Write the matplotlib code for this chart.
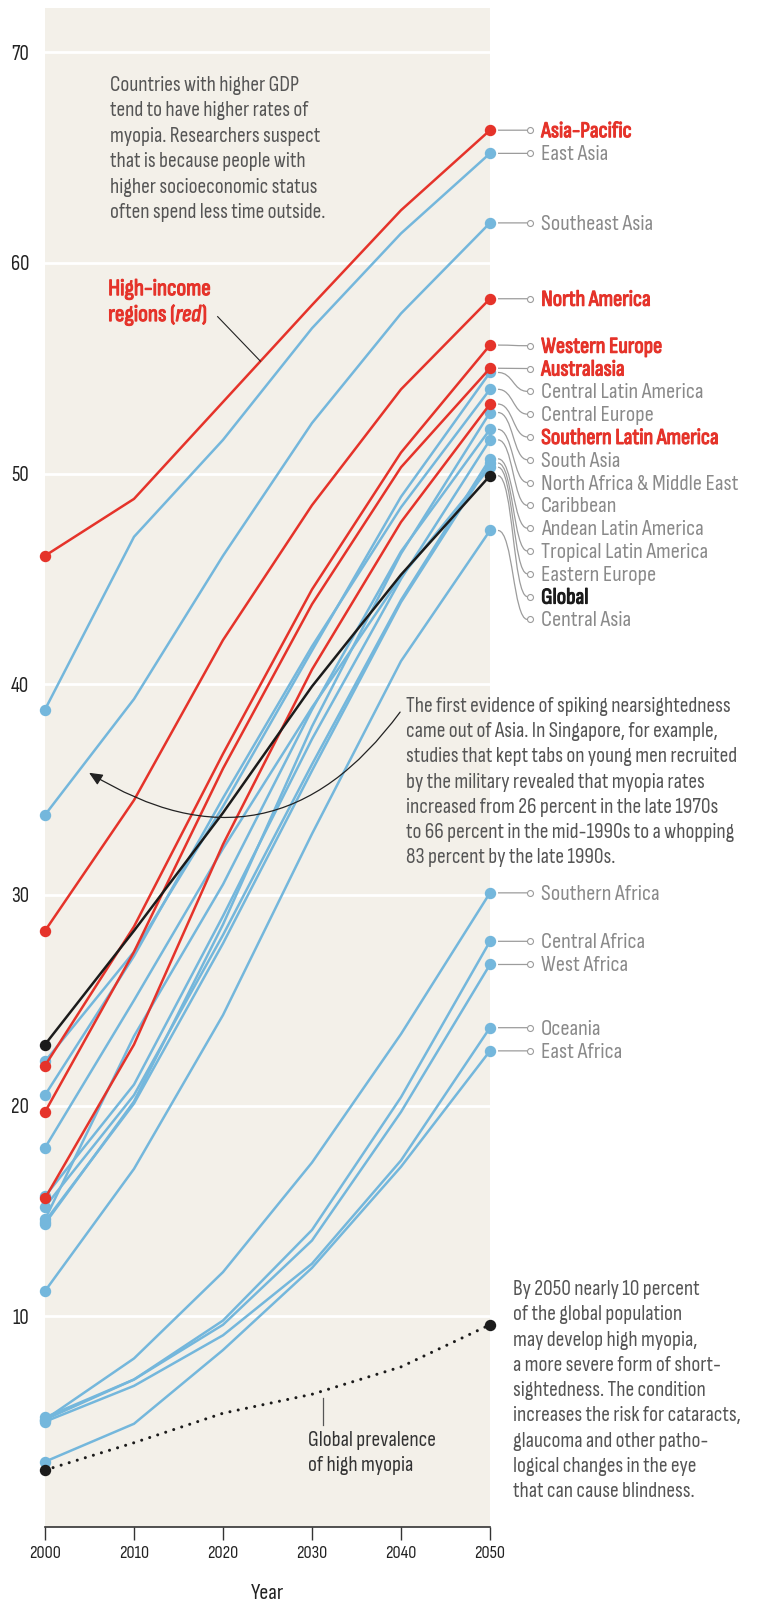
import matplotlib
matplotlib.use("Agg")
import matplotlib.pyplot as plt
import matplotlib.patheffects as pe
from matplotlib.path import Path
from matplotlib.patches import PathPatch, FancyArrowPatch
from matplotlib.transforms import offset_copy

# ---------------------------------------------------------------
# Myopia prevalence (%) by region, 2000-2050
# ---------------------------------------------------------------
years = [2000, 2010, 2020, 2030, 2040, 2050]

asia_pacific = [46.1, 48.8, 53.4, 58.0, 62.5, 66.3]
east_asia = [38.8, 47.0, 51.6, 56.9, 61.4, 65.2]
southeast_asia = [33.8, 39.3, 46.1, 52.4, 57.6, 61.9]
north_america = [28.3, 34.5, 42.1, 48.5, 54.0, 58.3]
western_europe = [21.9, 28.5, 36.7, 44.5, 51.0, 56.1]
australasia = [19.7, 27.3, 36.0, 43.8, 50.3, 55.0]
central_latin_america = [22.1, 27.3, 34.2, 41.6, 48.9, 54.8]
central_europe = [20.5, 27.1, 34.6, 41.8, 48.4, 54.0]
southern_latin_america = [15.6, 22.9, 32.4, 40.7, 47.7, 53.3]
south_asia = [14.4, 20.2, 28.6, 38.0, 46.2, 52.9]
north_africa_middle_east = [14.6, 23.3, 30.5, 38.8, 46.3, 52.1]
caribbean = [15.7, 21.0, 29.0, 37.4, 45.0, 51.6]
andean_latin_america = [15.2, 20.5, 28.1, 36.2, 44.0, 50.7]
tropical_latin_america = [14.5, 20.1, 27.7, 35.9, 43.9, 50.5]
eastern_europe = [18.0, 25.0, 32.2, 38.9, 45.1, 50.3]
global_myopia = [22.9, 28.3, 33.9, 39.9, 45.2, 49.9]
central_asia = [11.2, 17.0, 24.3, 32.9, 41.1, 47.3]
southern_africa = [5.1, 8.0, 12.1, 17.3, 23.4, 30.1]
central_africa = [5.1, 7.0, 9.8, 14.1, 20.4, 27.8]
west_africa = [5.2, 7.0, 9.6, 13.6, 19.7, 26.7]
oceania = [5.0, 6.7, 9.1, 12.5, 17.4, 23.7]
east_africa = [3.1, 4.9, 8.4, 12.3, 17.1, 22.6]

global_high_myopia = [2.7, 4.0, 5.4, 6.3, 7.6, 9.6]

y_ticks = [10, 20, 30, 40, 50, 60, 70]

# (label, values, group) - group: "high" income, "global" or "other"
regions = [
    ("Asia-Pacific", asia_pacific, "high"),
    ("East Asia", east_asia, "other"),
    ("Southeast Asia", southeast_asia, "other"),
    ("North America", north_america, "high"),
    ("Western Europe", western_europe, "high"),
    ("Australasia", australasia, "high"),
    ("Central Latin America", central_latin_america, "other"),
    ("Central Europe", central_europe, "other"),
    ("Southern Latin America", southern_latin_america, "high"),
    ("South Asia", south_asia, "other"),
    ("North Africa & Middle East", north_africa_middle_east, "other"),
    ("Caribbean", caribbean, "other"),
    ("Andean Latin America", andean_latin_america, "other"),
    ("Tropical Latin America", tropical_latin_america, "other"),
    ("Eastern Europe", eastern_europe, "other"),
    ("Global", global_myopia, "global"),
    ("Central Asia", central_asia, "other"),
    ("Southern Africa", southern_africa, "other"),
    ("Central Africa", central_africa, "other"),
    ("West Africa", west_africa, "other"),
    ("Oceania", oceania, "other"),
    ("East Africa", east_africa, "other"),
]

# labels between these two are stacked instead of sitting at their end value
STACK_FIRST, STACK_LAST = "Western Europe", "Central Asia"
STACK_TOP, STACK_STEP = 56.07, 1.0825

RED = "#e5332a"
BLUE = "#74b7dc"
BLACK = "#1b1b1b"
PANEL = "#f3f0e9"
GREY_LABEL = "#8a8a8a"
NOTE = "#555555"
LEADER = "#9c9c9c"

plt.rcParams["font.family"] = ["Sofia Sans Condensed", "Sofia Sans Semi Condensed",
                               "Liberation Sans Narrow", "DejaVu Sans"]

W, H = 757, 1601
fig = plt.figure(figsize=(W / 100, H / 100), dpi=100)
r = fig.canvas.get_renderer()


def fit(sample, target_px, **kw):
    """font size at which `sample` is target_px wide"""
    t = fig.text(0, 0, sample, fontsize=10, **kw)
    w = t.get_window_extent(r).width
    t.remove()
    return 10 * target_px / w


def bold(color, w=0.8):
    return [pe.withStroke(linewidth=w, foreground=color)]


FS_NOTE = (fit("myopia. Researchers suspect", 208)
           + fit("The first evidence of spiking nearsightedness", 320)
           + fit("increases the risk for cataracts,", 229)) / 3
FS_LABEL = (fit("Southeast Asia", 110) + fit("North Africa & Middle East", 200)) / 2
FS_XT = fit("2000", 32)
FS_YT = fit("70", 18)
FS_HI = fit("High-income", 102)

ax = fig.add_axes([45 / W, 74 / H, 445 / W, 1519 / H])
ax.set_xlim(2000, 2050)
ax.set_ylim(0, 72.1)
ax.set_facecolor(PANEL)

for s in ("top", "left", "right"):
    ax.spines[s].set_visible(False)
ax.spines["bottom"].set_color("#333333")
ax.spines["bottom"].set_linewidth(1.2)

ax.set_xticks(years)
ax.set_xticklabels([str(y) for y in years])
ax.tick_params(axis="x", length=9.5, width=1, color="#333333", pad=4,
               labelsize=FS_XT, labelcolor="#222222")
ax.set_yticks(y_ticks)
ax.set_yticklabels([str(v) for v in y_ticks])
ax.tick_params(axis="y", length=0, pad=11.5, labelsize=FS_YT, labelcolor="#222222")
ax.grid(axis="y", color="white", lw=2)
ax.set_axisbelow(True)

style = {"high": (RED, 3), "other": (BLUE, 2), "global": (BLACK, 4)}
for name, vals, grp in regions:
    c, z = style[grp]
    ax.plot(years, vals, color=c, lw=1.8, zorder=z, solid_joinstyle="round",
            marker="o", ms=7.2, markevery=[0, -1], mec=c, mfc=c, clip_on=False)

# dotted high-myopia line
ax.plot(years, global_high_myopia, color=BLACK, lw=2.2, zorder=4,
        linestyle=(0, (0.01, 2.75)), dash_capstyle="round")
ax.plot([years[0], years[-1]], [global_high_myopia[0], global_high_myopia[-1]],
        "o", color=BLACK, ms=7.2, zorder=5, clip_on=False)

# ---------------------------------------------------------------
# right-hand labels with leader lines
# ---------------------------------------------------------------
names = [rg[0] for rg in regions]
i0, i1 = names.index(STACK_FIRST), names.index(STACK_LAST)
base = offset_copy(ax.transData, fig=fig, y=-7, units="dots")
for i, (name, vals, grp) in enumerate(regions):
    yd = vals[-1]
    ly = STACK_TOP - (i - i0) * STACK_STEP if i0 <= i <= i1 else yd
    verts = [(2050.9, yd), (2052.6, yd), (2052.6, ly), (2054.2, ly)]
    codes = [Path.MOVETO, Path.CURVE4, Path.CURVE4, Path.CURVE4]
    ax.add_patch(PathPatch(Path(verts, codes), fc="none", ec=LEADER, lw=0.9,
                           clip_on=False))
    ax.plot(2054.5, ly, "o", ms=4.3, mfc="white", mec=LEADER, mew=0.8,
            clip_on=False, zorder=6)
    color = {"high": RED, "global": BLACK, "other": GREY_LABEL}[grp]
    effects = [] if grp == "other" else bold(color)
    ax.text(2055.75, ly, name, color=color, fontsize=FS_LABEL, path_effects=effects,
            va="baseline", ha="left", transform=base, clip_on=False)


# ---------------------------------------------------------------
# annotations
# ---------------------------------------------------------------
def para(x, y0, lines, step, **kw):
    for k, line in enumerate(lines):
        ax.text(x, y0 - k * step, line, va="baseline", ha="left",
                clip_on=False, **kw)


para(2007.3, 68.17, [
    "Countries with higher GDP",
    "tend to have higher rates of",
    "myopia. Researchers suspect",
    "that is because people with",
    "higher socioeconomic status",
    "often spend less time outside.",
], 1.21, color=NOTE, fontsize=FS_NOTE)

ax.text(2007.1, 58.47, "High-income", color=RED, fontsize=FS_HI,
        path_effects=bold(RED), va="baseline")
x = 2007.1
for piece, fst in (("regions (", "normal"), ("red", "italic"), (")", "normal")):
    t = ax.text(x, 57.24, piece, color=RED, fontstyle=fst, fontsize=FS_HI,
                path_effects=bold(RED), va="baseline")
    bb = t.get_window_extent(r)
    x = ax.transData.inverted().transform((bb.x1, bb.y0))[0]
    if fst == "italic":
        x += 0.12

# pointer to the Asia-Pacific line
ap_at = asia_pacific[2] + (asia_pacific[3] - asia_pacific[2]) * 0.421
ax.plot([2019.4, 2024.2], [57.45, ap_at], color="#222222", lw=0.8, zorder=6)

para(2040.56, 38.70, [
    "The first evidence of spiking nearsightedness",
    "came out of Asia. In Singapore, for example,",
    "studies that kept tabs on young men recruited",
    "by the military revealed that myopia rates",
    "increased from 26 percent in the late 1970s",
    "to 66 percent in the mid-1990s to a whopping",
    "83 percent by the late 1990s.",
], 1.2, color=NOTE, fontsize=FS_NOTE)

ax.add_patch(FancyArrowPatch((2039.9, 38.68), (2004.95, 35.8),
                             connectionstyle="arc3,rad=-0.46",
                             arrowstyle="-|>,head_length=0.45,head_width=0.2",
                             mutation_scale=18, lw=0.9, color="#222222",
                             shrinkA=0, shrinkB=0, zorder=6))

para(2052.58, 11.01, [
    "By 2050 nearly 10 percent",
    "of the global population",
    "may develop high myopia,",
    "a more severe form of short-",
    "sightedness. The condition",
    "increases the risk for cataracts,",
    "glaucoma and other patho-",
    "logical changes in the eye",
    "that can cause blindness.",
], 1.2, color=NOTE, fontsize=FS_NOTE)

para(2029.55, 3.84, ["Global prevalence", "of high myopia"], 1.19,
     color="#333333", fontsize=FS_NOTE)
ax.plot([2031.24, 2031.24], [4.84, 6.1], color="#555555", lw=0.9)

fig.text(267.5 / W, 2.5 / H, "Year", ha="center", va="baseline",
         fontsize=fit("Year", 33), color="#222222")

fig.savefig("out.png", dpi=100)
